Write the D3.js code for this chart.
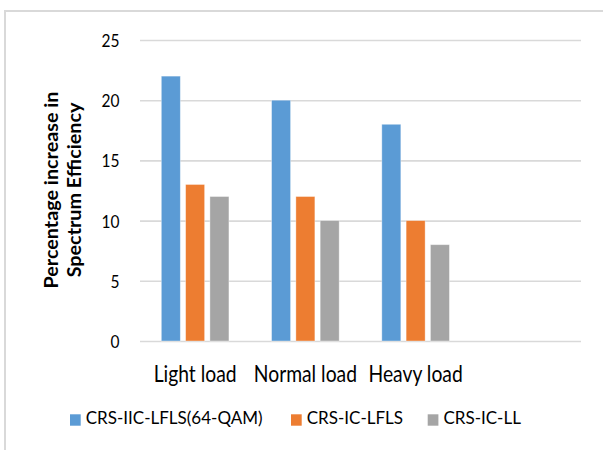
<!DOCTYPE html>
<html>
<head>
<meta charset="utf-8">
<script src="https://cdn.jsdelivr.net/npm/d3@7"></script>
<style>
  html, body { margin: 0; padding: 0; background: #fff; }
  svg { display: block; }
  text { font-family: Lato, "Open Sans", "Noto Sans", sans-serif; fill: #000; }
</style>
</head>
<body>
<svg id="chart" width="603" height="450"></svg>
<script>
// ---- data ----
const categories = ["Light load", "Normal load", "Heavy load"];
const seriesNames = ["CRS-IIC-LFLS(64-QAM)", "CRS-IC-LFLS", "CRS-IC-LL"];
const valuesIIC = [22, 20, 18];
const valuesICLFLS = [13, 12, 10];
const valuesICLL = [12, 10, 8];
const yTicks = [0, 5, 10, 15, 20, 25];
const colors = ["#5b9bd5", "#ed7d31", "#a5a5a5"];

const seriesValues = [valuesIIC, valuesICLFLS, valuesICLL];

const svg = d3.select("#chart");

// outer chart border
svg.append("rect")
  .attr("x", 5).attr("y", 11)
  .attr("width", 640).attr("height", 480)
  .attr("fill", "#fff")
  .attr("stroke", "#d9d9d9").attr("stroke-width", 2);

const plot = { left: 140, right: 581, top: 40, bottom: 341 };

// x: four slots (fourth is an empty category in the original)
const xDomain = categories.concat([" "]);
const x = d3.scaleBand().domain(xDomain).range([plot.left, plot.right]).padding(0);
const xs = d3.scaleBand().domain(seriesNames).range([-33.8, 33.8]).paddingInner(0.218).paddingOuter(0);
const y = d3.scaleLinear().domain([0, 25]).range([plot.bottom, plot.top]);

function fit(sel, target) {
  sel.each(function () {
    const fs = parseFloat(this.getAttribute("font-size"));
    const w = this.getComputedTextLength();
    if (w > 0) this.setAttribute("font-size", (fs * target / w).toFixed(2));
  });
}

// gridlines
const grid = d3.axisLeft(y).tickValues(yTicks).tickSize(-(plot.right - plot.left)).tickFormat("");
svg.append("g")
  .attr("transform", `translate(${plot.left},0)`)
  .call(grid)
  .call(g => g.select(".domain").remove())
  .call(g => g.selectAll("line").attr("stroke", "#d9d9d9").attr("stroke-width", 1.6));

// y tick labels
const yAxis = d3.axisLeft(y).tickValues(yTicks).tickSize(0).tickPadding(0);
const ya = svg.append("g").attr("transform", `translate(119.5,0)`).call(yAxis);
ya.select(".domain").remove();
ya.selectAll("text")
  .attr("font-size", 18).attr("font-family", "Lato, sans-serif")
  .attr("fill", "#000").attr("dy", "0.36em");
fit(ya.select(".tick:last-of-type text"), 18);
const tickFs = ya.select(".tick:last-of-type text").attr("font-size");
ya.selectAll("text").attr("font-size", tickFs).attr("transform", "scale(1,1.17)");

// bars
categories.forEach((cat, ci) => {
  const cx = x(cat) + x.bandwidth() / 2;
  svg.append("g").selectAll("rect")
    .data(seriesNames.map((s, si) => ({ s, si, v: seriesValues[si][ci] })))
    .join("rect")
    .attr("x", d => cx + xs(d.s))
    .attr("y", d => y(d.v))
    .attr("width", xs.bandwidth())
    .attr("height", d => y(0) - y(d.v))
    .attr("fill", d => colors[d.si])
    .attr("stroke", "#ffffff").attr("stroke-opacity", 0.45).attr("stroke-width", 0.8);
});

// x category labels
const xAxis = d3.axisBottom(x).tickValues(categories).tickSize(0).tickPadding(0);
const xa = svg.append("g").attr("transform", `translate(0,382)`).call(xAxis);
xa.select(".domain").remove();
xa.selectAll("text")
  .attr("font-size", 18).attr("font-family", "Lato, sans-serif")
  .attr("fill", "#000").attr("dy", 0);
fit(xa.select(".tick text"), 83);
const catFs = xa.select(".tick text").attr("font-size");
xa.selectAll("text").attr("font-size", catFs).attr("transform", "scale(1,1.15)");

// y title (two lines, bold, rotated)
const title = svg.append("text")
  .attr("transform", "translate(58.3,190) rotate(-90)")
  .attr("text-anchor", "middle")
  .attr("font-weight", "bold");
title.append("tspan").attr("x", 0).attr("y", 0).attr("font-size", 17).text("Percentage increase in");
title.append("tspan").attr("x", 0).attr("y", 22.4).attr("font-size", 17).text("Spectrum Efficiency");
{
  const t1 = title.select("tspan").node();
  const w = t1.getComputedTextLength();
  const fs = (17 * 197 / w).toFixed(2);
  title.selectAll("tspan").attr("font-size", fs);
}

// legend
const legendX = [70, 291, 427.7];
const lg = svg.append("g");
seriesNames.forEach((s, i) => {
  lg.append("rect").attr("x", legendX[i]).attr("y", 414.3).attr("width", 10.7).attr("height", 11.4).attr("fill", colors[i]);
  lg.append("text").attr("class", "lt").attr("x", legendX[i] + 15.7).attr("y", 424.3).attr("font-size", 18).text(s);
});
fit(lg.select("text.lt"), 177);
const legFs = lg.select("text.lt").attr("font-size");
lg.selectAll("text.lt").attr("font-size", legFs);
</script>
</body>
</html>
